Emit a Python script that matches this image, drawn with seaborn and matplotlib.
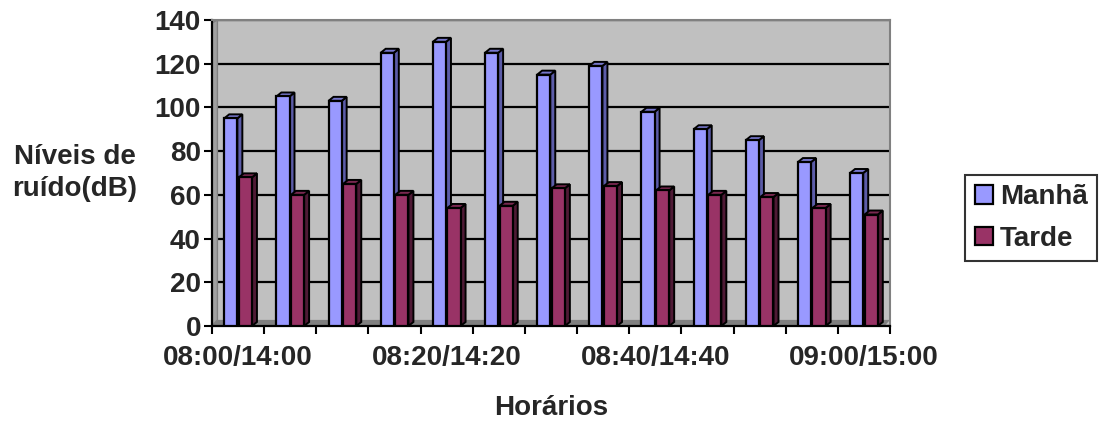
import matplotlib
matplotlib.use("Agg")
import matplotlib.pyplot as plt
import matplotlib.patches as mpatches
import seaborn as sns
import pandas as pd
import numpy as np

categorias = ["08:00/14:00", "08:05/14:05", "08:10/14:10", "08:15/14:15", "08:20/14:20",
              "08:25/14:25", "08:30/14:30", "08:35/14:35", "08:40/14:40", "08:45/14:45",
              "08:50/14:50", "08:55/14:55", "09:00/15:00"]
manha = [95, 105, 103, 125, 130, 125, 115, 119, 98, 90, 85, 75, 70]
tarde = [68, 60, 65, 60, 54, 55, 63, 64, 62, 60, 59, 54, 51]
series = ["Manhã", "Tarde"]
cores = {"Manhã": "#9999FF", "Tarde": "#993366"}
cores_lado = {"Manhã": "#5C5CA8", "Tarde": "#4F1A35"}
cores_topo = {"Manhã": "#7777CC", "Tarde": "#7A2850"}
rotulos_x = ["08:00/14:00", "08:20/14:20", "08:40/14:40", "09:00/15:00"]

df = pd.DataFrame({
    "Horário": categorias * 2,
    "Nível": manha + tarde,
    "Série": [series[0]] * len(manha) + [series[1]] * len(tarde),
})

sns.set_theme(style="white")
plt.rcParams["font.family"] = ["Liberation Sans", "DejaVu Sans"]
plt.rcParams["font.weight"] = "bold"
FS = 20

fig = plt.figure(figsize=(10.99, 4.23), dpi=100)
ax = fig.add_axes([212 / 1099, 1 - 326 / 423, (890 - 212) / 1099, (326 - 20) / 423])
ax.set_facecolor("#C0C0C0")

sns.barplot(data=df, x="Horário", y="Nível", hue="Série", palette=cores,
            width=0.56, gap=0.1, edgecolor="black", linewidth=1.6,
            saturation=1, ax=ax, legend=False, zorder=3)

ax.set_xlim(-0.5, len(categorias) - 0.5)
ax.set_ylim(0, 140)

# 3D depth faces computed from each bar's own geometry
fig.canvas.draw()
bbox = ax.get_window_extent()
px_x = bbox.width / (len(categorias))
px_y = bbox.height / 140
dx = 5 / px_x
dy = 4 / px_y
n = len(categorias)
for i, p in enumerate(ax.patches[:2 * n]):
    s = series[i // n]
    z = 3 if s == "Manhã" else 5
    p.set_zorder(z)
    x0, w, h = p.get_x(), p.get_width(), p.get_height()
    side = mpatches.Polygon([(x0 + w, 0), (x0 + w + dx, dy), (x0 + w + dx, h + dy), (x0 + w, h)],
                            closed=True, facecolor=cores_lado[s], edgecolor="black", lw=1.4, zorder=z - 0.5)
    top = mpatches.Polygon([(x0, h), (x0 + dx, h + dy), (x0 + w + dx, h + dy), (x0 + w, h)],
                           closed=True, facecolor=cores_topo[s], edgecolor="black", lw=1.4, zorder=z - 0.5,
                           clip_on=False)
    ax.add_patch(side)
    ax.add_patch(top)

# floor and side wall decoration
ax.add_patch(mpatches.Polygon([(0, 0), (0.008, 0.02), (1.0, 0.02), (0.992, 0)], closed=True,
                              transform=ax.transAxes, facecolor="#808080", edgecolor="none", zorder=1))
ax.add_patch(mpatches.Polygon([(0, 0), (0.008, 0.02), (0.008, 1.0), (0, 0.99)], closed=True,
                              transform=ax.transAxes, facecolor="#A0A0A0", edgecolor="#808080", lw=1, zorder=1))

ax.set_yticks(range(0, 141, 20))
ax.yaxis.grid(True, color="black", lw=1.6, zorder=0)
ax.set_axisbelow(True)

# tick marks between categories, labels every 4th category
ax.set_xticks(np.arange(-0.5, n, 1.0))
ax.set_xticklabels([""] * (n + 1))
pos_rot = [categorias.index(r) for r in rotulos_x]
ax.set_xticks(pos_rot, minor=True)
ax.set_xticklabels(rotulos_x, minor=True)
ax.tick_params(axis="x", which="major", direction="out", length=6, width=1.5, color="black", bottom=True)
ax.tick_params(axis="x", which="minor", length=0, pad=14, labelsize=FS)
ax.tick_params(axis="y", direction="out", length=6, width=1.5, color="black", left=True, labelsize=FS, pad=2)
for lab in ax.get_xticklabels(minor=True) + ax.get_yticklabels():
    lab.set_fontweight("bold")

for sp in ["top", "right"]:
    ax.spines[sp].set_color("#808080")
    ax.spines[sp].set_linewidth(1.5)
for sp in ["left", "bottom"]:
    ax.spines[sp].set_color("black")
    ax.spines[sp].set_linewidth(1.6)

ax.set_xlabel("Horários", fontsize=FS, fontweight="bold", labelpad=17)
ax.set_ylabel("Níveis de\nruído(dB)", fontsize=FS, fontweight="bold", rotation=0,
              ha="center", va="center", labelpad=0, linespacing=1.25)
ax.yaxis.set_label_coords(-0.202, 0.5)

handles = [mpatches.Patch(facecolor=cores[s], edgecolor="black", lw=1.6, label=s) for s in series]
leg = fig.legend(handles=handles, loc="center left", bbox_to_anchor=(965 / 1099, 1 - 218 / 423),
                 frameon=True, fancybox=False, edgecolor="black", fontsize=FS,
                 handlelength=0.65, handleheight=0.65, handletextpad=0.25, borderpad=0.35,
                 labelspacing=0.55, borderaxespad=0)
leg.get_frame().set_linewidth(1.5)
for t in leg.get_texts():
    t.set_fontweight("bold")

fig.savefig("out.png", dpi=100)
